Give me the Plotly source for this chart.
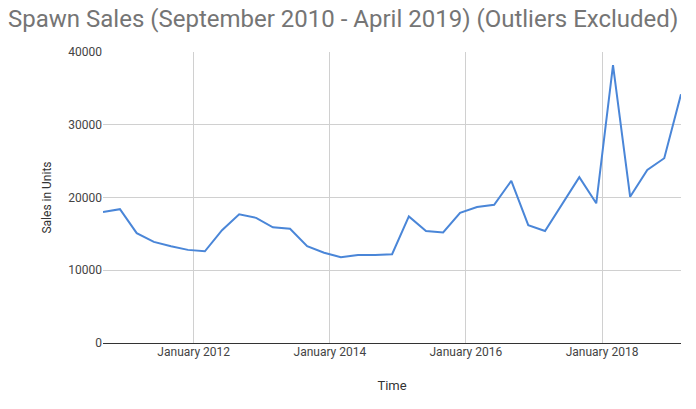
import plotly.graph_objects as go
import pandas as pd

dates = pd.date_range("2010-09-01", periods=35, freq="3MS")
sales = [18000, 18400, 15100, 13900, 13300, 12800, 12600, 15500, 17700, 17200,
         15900, 15700, 13300, 12400, 11800, 12100, 12100, 12200, 17400, 15400,
         15200, 17900, 18700, 19000, 22300, 16200, 15400, 19100, 22800, 19200,
         38200, 20100, 23800, 25400, 34200]
xticks = ["2012-01-01", "2014-01-01", "2016-01-01", "2018-01-01"]
xticklabels = ["January 2012", "January 2014", "January 2016", "January 2018"]
yticks = [0, 10000, 20000, 30000, 40000]
yticklabels = ["0", "10000", "20000", "30000", "40000"]

fig = go.Figure(go.Scatter(x=dates, y=sales, mode="lines",
                           line=dict(color="#4a86d8", width=2)))
fig.update_layout(
    width=696, height=409,
    margin=dict(l=95, r=23, t=44, b=74),
    paper_bgcolor="white", plot_bgcolor="white",
    font=dict(family="Roboto", color="#444", size=12),
    title=dict(text="Spawn Sales (September 2010 - April 2019) (Outliers Excluded)",
               x=0.0, xanchor="left", y=1 - 11/409, yanchor="middle",
               font=dict(size=24, color="#757575")),
    showlegend=False,
)
fig.update_xaxes(range=[dates[0], dates[-1]], tickvals=xticks, ticktext=xticklabels,
                 showgrid=True, gridcolor="#d0d0d0", gridwidth=1,
                 title=dict(text="Time", font=dict(size=13, color="#333"), standoff=22),
                 showline=False, zeroline=False, ticks="", tickfont=dict(color="#444"))
fig.update_yaxes(range=[0, 40000], tickvals=yticks, ticktext=yticklabels,
                 showgrid=True, gridcolor="#d0d0d0", zeroline=True, zerolinecolor="#333",
                 zerolinewidth=1,
                 title=dict(text="Sales in Units", font=dict(size=12, color="#333"), standoff=14),
                 ticks="", tickfont=dict(color="#444"))
fig.write_html("out.html")
